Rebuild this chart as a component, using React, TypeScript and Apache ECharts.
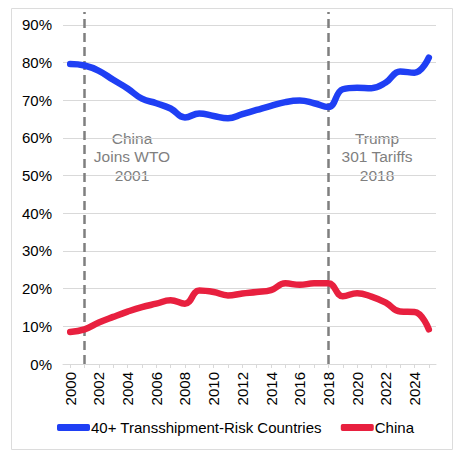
import React, { useEffect, useRef } from "react";
import * as echarts from "echarts";

const years = [
  "2000", "2001", "2002", "2003", "2004", "2005", "2006", "2007", "2008", "2009",
  "2010", "2011", "2012", "2013", "2014", "2015", "2016", "2017", "2018", "2019",
  "2020", "2021", "2022", "2023", "2024", "2025",
];

const riskCountries = [
  79.6, 79.2, 77.8, 75.4, 73.1, 70.4, 69.2, 67.8, 65.4, 66.5,
  65.8, 65.2, 66.3, 67.4, 68.5, 69.5, 69.9, 69.2, 68.2, 72.9,
  73.3, 73.2, 74.7, 77.6, 77.3, 81.3,
];

const china = [
  8.5, 9.2, 11.0, 12.5, 13.9, 15.1, 16.0, 16.9, 16.0, 19.5,
  19.1, 18.2, 18.7, 19.1, 19.6, 21.4, 21.0, 21.4, 21.4, 18.0,
  18.8, 17.9, 16.3, 13.9, 13.8, 9.2,
];

const seriesNames = ["40+ Transshipment-Risk Countries", "China"];
const eventYears = ["2001", "2018"];
const eventLabels = ["China\nJoins WTO\n2001", "Trump\n301 Tariffs\n2018"];
const yTicks = [0, 10, 20, 30, 40, 50, 60, 70, 80, 90];

const FONT = "'Liberation Sans', Arial, Helvetica, sans-serif";

export default function App() {
  const ref = useRef<HTMLDivElement>(null);

  useEffect(() => {
    if (!ref.current) return;
    const chart = echarts.init(ref.current, null, { renderer: "svg" });
    const option = {
      animation: false,
      backgroundColor: "#ffffff",
      grid: { left: 63, right: 37, top: 12, bottom: 93, containLabel: false },
      legend: {
        left: 52,
        top: 415,
        icon: "roundRect",
        itemWidth: 33,
        itemHeight: 7,
        itemGap: 19,
        textStyle: { fontFamily: FONT, fontSize: 15, color: "#000", padding: [0, 0, 0, -4] },
        data: seriesNames,
      },
      xAxis: {
        type: "category",
        data: years,
        boundaryGap: true,
        axisLine: { lineStyle: { color: "#d9d9d9", width: 1 } },
        axisTick: { show: true, alignWithLabel: true, interval: 0, length: 4, lineStyle: { color: "#d9d9d9" } },
        axisLabel: { rotate: 90, interval: 1, fontFamily: FONT, fontSize: 15, color: "#000", margin: 8 },
        splitLine: { show: false },
      },
      yAxis: {
        type: "value",
        min: yTicks[0],
        max: 93.4,
        interval: 10,
        axisLine: { show: false },
        axisTick: { show: false },
        axisLabel: {
          fontFamily: FONT,
          fontSize: 15,
          color: "#000",
          margin: 11,
          showMaxLabel: false,
          formatter: (v: number) => (yTicks.includes(v) ? v + "%" : ""),
        },
        splitLine: { show: true, showMaxLine: false, lineStyle: { color: "#d9d9d9", width: 1 } },
      },
      graphic: [
        {
          type: "rect",
          shape: { x: 11.5, y: 8.5, width: 441, height: 441 },
          style: { fill: "none", stroke: "#dcdcdc", lineWidth: 1 },
          silent: true,
        },
        {
          type: "text",
          x: 132,
          y: 129,
          style: {
            text: eventLabels[0],
            fontFamily: FONT,
            fontSize: 15.5,
            lineHeight: 18.5,
            fill: "#7f7f7f",
            align: "center",
            verticalAlign: "top",
          },
        },
        {
          type: "text",
          x: 377,
          y: 129,
          style: {
            text: eventLabels[1],
            fontFamily: FONT,
            fontSize: 15.5,
            lineHeight: 18.5,
            fill: "#7f7f7f",
            align: "center",
            verticalAlign: "top",
          },
        },
      ],
      series: [
        {
          name: seriesNames[0],
          type: "line",
          data: riskCountries,
          smooth: 0.45,
          showSymbol: false,
          symbol: "none",
          color: "#1f3ff4",
          lineStyle: { width: 6.5, color: "#1f3ff4", cap: "round", join: "round" },
          z: 3,
          markLine: {
            silent: true,
            symbol: ["none", "none"],
            label: { show: false },
            lineStyle: { color: "#7f7f7f", type: [9, 5], width: 2.5 },
            data: eventYears.map((y) => ({ xAxis: y })),
            z: 2,
          },
        },
        {
          name: seriesNames[1],
          type: "line",
          data: china,
          smooth: 0.45,
          showSymbol: false,
          symbol: "none",
          color: "#e8203f",
          lineStyle: { width: 6.5, color: "#e8203f", cap: "round", join: "round" },
          z: 3,
        },
      ],
    };
    chart.setOption(option as any);
    return () => chart.dispose();
  }, []);

  return (
    <div
      ref={ref}
      style={{ position: "fixed", left: 0, top: 0, width: 473, height: 457, background: "#fff" }}
    />
  );
}
